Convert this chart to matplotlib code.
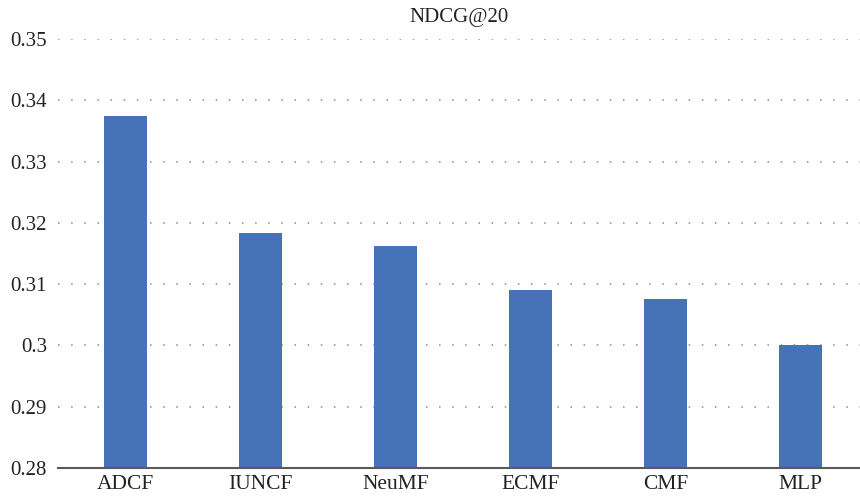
import matplotlib.pyplot as plt
from matplotlib.ticker import FuncFormatter

# NDCG@20 scores per model
models = ["ADCF", "IUNCF", "NeuMF", "ECMF", "CMF", "MLP"]
ndcg = [0.3374, 0.3183, 0.3162, 0.3090, 0.3076, 0.3001]
yticks = [0.28, 0.29, 0.30, 0.31, 0.32, 0.33, 0.34, 0.35]

plt.rcParams["font.family"] = ["Liberation Serif", "DejaVu Serif"]

fig = plt.figure(figsize=(8.6, 4.97), dpi=100)
ax = fig.add_axes([58 / 860, 29 / 497, 1 - 58 / 860, 429 / 497])

x = list(range(len(models)))
ax.bar(x, ndcg, width=0.32, color="#4672B8", zorder=3)

ax.set_ylim(0.28, 0.35)
ax.set_xlim(-0.5, 5.44)
ax.set_yticks(yticks)
ax.yaxis.set_major_formatter(FuncFormatter(lambda v, p: "%g" % round(v, 2)))
ax.set_xticks(x)
ax.set_xticklabels(models)
ax.tick_params(axis="both", length=0, labelsize=15, colors="#222222")
ax.tick_params(axis="x", labelsize=15.5)
ax.tick_params(axis="y", pad=8)
ax.tick_params(axis="x", pad=5)

# dotted horizontal grid
ax.yaxis.grid(True, linestyle=(0, (1, 7.6)), linewidth=1.1, color="#8a8a8a", zorder=0)
ax.xaxis.grid(False)

for s in ["top", "right", "left"]:
    ax.spines[s].set_visible(False)
ax.spines["bottom"].set_color("#5a5a5a")
ax.spines["bottom"].set_linewidth(1.5)
ax.spines["bottom"].set_zorder(4)

ax.set_title("NDCG@20", fontsize=15, color="#222222", pad=12)

fig.savefig("out.png", dpi=100)
